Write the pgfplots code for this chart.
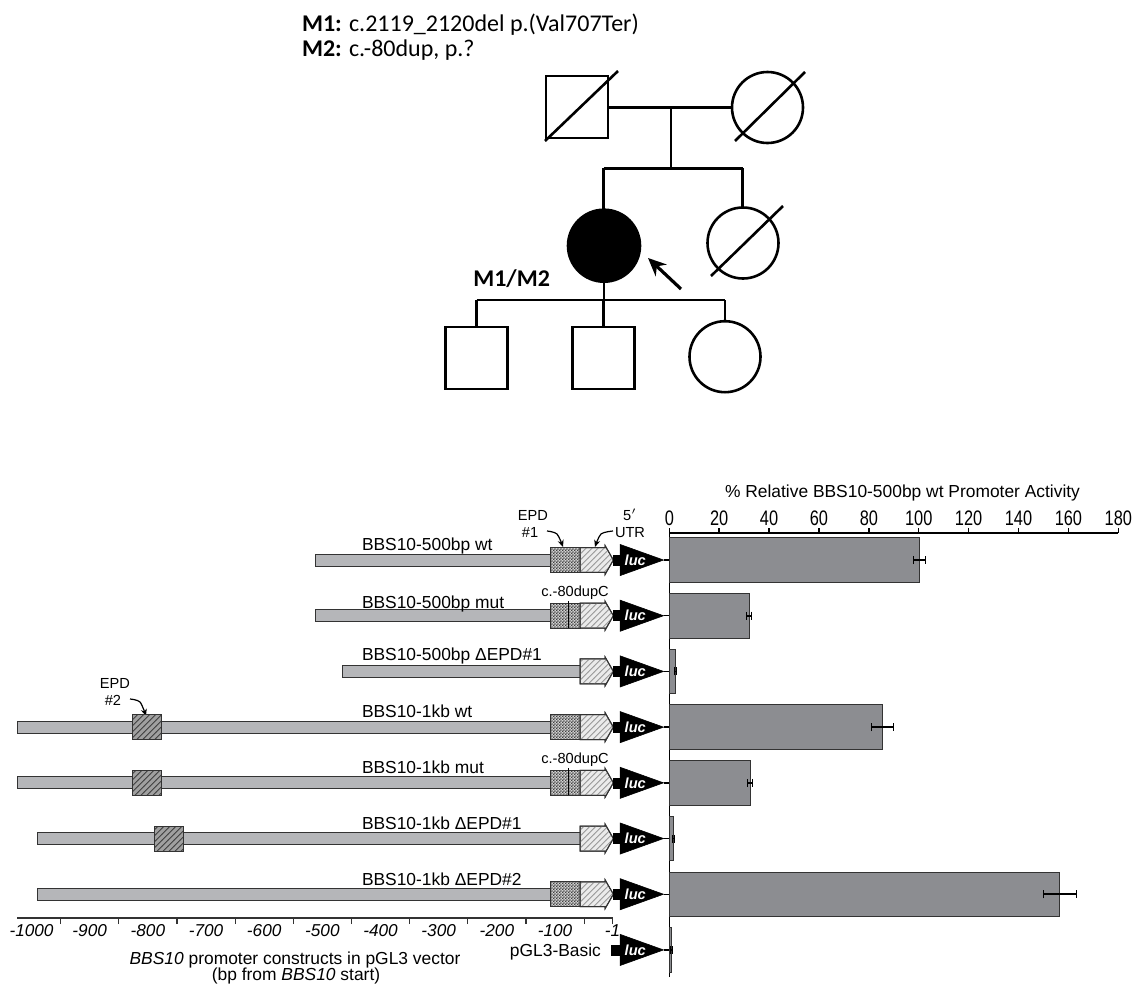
\documentclass[border=0pt]{standalone}
\usepackage{pgfplots}
\pgfplotsset{compat=1.18}
\usepackage{fontspec}
\setmainfont{Liberation Sans}
\newfontfamily\calibri{Carlito}
\newfontfamily\narrowf[FakeStretch=0.78]{Liberation Sans}
\usetikzlibrary{arrows.meta,patterns}
\pgfdeclarepatternformonly{checker}{\pgfqpoint{0pt}{0pt}}{\pgfqpoint{1.6pt}{1.6pt}}{\pgfqpoint{1.6pt}{1.6pt}}{%
  \pgfpathrectangle{\pgfqpoint{0pt}{0pt}}{\pgfqpoint{0.8pt}{0.8pt}}%
  \pgfpathrectangle{\pgfqpoint{0.8pt}{0.8pt}}{\pgfqpoint{0.8pt}{0.8pt}}%
  \pgfusepath{fill}}
\definecolor{barg}{HTML}{8C8D91}
\definecolor{cbar}{HTML}{B5B6B9}
\definecolor{cepd}{HTML}{D0D0D0}
\definecolor{cutr}{HTML}{EBEBEB}
\definecolor{cepdb}{HTML}{A0A0A0}
\newcommand{\lab}{\fontsize{8.7}{10}\selectfont}
\newcommand{\sm}{\fontsize{7.3}{8}\selectfont}
\begin{document}
\begin{tikzpicture}
\pgfplotsset{
 gbar/.style={draw=black!80, fill=cbar, line width=0.5pt},
 epda/.style={draw=black!80, line width=0.5pt, fill=cepd, postaction={pattern=checker, pattern color=black!75}},
 utr/.style={draw=black!80, line width=0.5pt, fill=cutr, postaction={pattern=north east lines, pattern color=black!40}},
 epdb/.style={draw=black!80, line width=0.5pt, fill=cepdb, postaction={pattern=north east lines, pattern color=black!75}},
 lucs/.style={draw=black, fill=black, line width=0.3pt},
 ped/.style={black, line width=1.3pt},
 carr/.style={black, line width=0.6pt, smooth, -{Stealth[length=3.5pt,width=3pt]}},
}
\tikzset{lucl/.style={font=\fontsize{7.3}{8}\selectfont\bfseries\itshape, text=white, inner sep=0pt}}

% ---------- master (pixel) axis: pedigree and free texts ----------
\begin{axis}[at={(0pt,0pt)}, anchor=north west, scale only axis,
  width=567.5pt, height=491.5pt, xmin=0, xmax=1135, ymin=-983, ymax=0,
  hide axis, clip=false]
\addplot[draw=none] coordinates {(0,0) (1135,-983)};
% pedigree lines
\addplot[ped] coordinates {(609,-107.5) (732,-107.5)};
\addplot[ped] coordinates {(671,-107.5) (671,-168.3)};
\addplot[ped] coordinates {(603.5,-168.3) (742.5,-168.3)};
\addplot[ped] coordinates {(603.5,-168.3) (603.5,-210)};
\addplot[ped] coordinates {(742.5,-168.3) (742.5,-208)};
\addplot[ped] coordinates {(604,-281) (604,-300)};
\addplot[ped] coordinates {(476.5,-300) (725,-300)};
\addplot[ped] coordinates {(476.5,-300) (476.5,-328)};
\addplot[ped] coordinates {(603.5,-300) (603.5,-328)};
\addplot[ped] coordinates {(725,-300) (725,-321)};
% deceased slashes
\addplot[ped] coordinates {(545,-141) (618,-71)};
\addplot[ped] coordinates {(735,-141) (805,-72)};
\addplot[ped] coordinates {(711,-276) (783,-206)};
% pedigree symbols
\addplot[only marks, mark=square, mark size=15.5pt, mark options={draw=black, line width=1.3pt}] coordinates {(577,-107) (476.5,-358) (603.5,-358)};
\addplot[only marks, mark=o, mark size=17.75pt, mark options={draw=black, line width=1.3pt}] coordinates {(767.5,-107.5) (743,-243) (725,-356.7)};
\addplot[only marks, mark=*, mark size=18pt, mark options={draw=black, fill=black, line width=1.3pt}] coordinates {(604,-245.7)};
% proband arrow
\addplot[black, line width=1.6pt, -{Stealth[length=9pt,width=8pt]}] coordinates {(681,-289) (648,-258)};
% texts
\node[anchor=base west, font=\calibri\fontsize{12}{14}\selectfont] at (axis cs:295,-31.7) {\textbf{M1:} c.2119\_2120del p.(Val707Ter)};
\node[anchor=base west, font=\calibri\fontsize{12}{14}\selectfont] at (axis cs:295,-56.7) {\textbf{M2:} c.-80dup, p.?};
\node[anchor=base east, font=\calibri\fontsize{12}{14}\selectfont] at (axis cs:557,-286.7) {\textbf{M1/M2}};
\node[anchor=base, font=\lab] at (axis cs:902.5,-497.5) {\% Relative BBS10-500bp wt Promoter Activity};
\node[anchor=base, font=\lab] at (axis cs:295,-964) {\textit{BBS10} promoter constructs in pGL3 vector};
\node[anchor=base, font=\lab] at (axis cs:296,-980) {(bp from \textit{BBS10} start)};
\node[anchor=base, font=\sm] at (axis cs:533,-520.7) {EPD};
\node[anchor=base, font=\sm] at (axis cs:530,-537.3) {\#1};
\node[anchor=base, font=\sm] at (axis cs:630,-520.7) {5$'$};
\node[anchor=base, font=\sm] at (axis cs:630,-537.3) {UTR};
\node[anchor=base, font=\sm] at (axis cs:115,-688.3) {EPD};
\node[anchor=base, font=\sm] at (axis cs:113,-705) {\#2};
\node[anchor=base, font=\sm] at (axis cs:575,-596.7) {c.-80dupC};
\node[anchor=base, font=\sm] at (axis cs:575,-763.5) {c.-80dupC};
\addplot[carr] coordinates {(547,-531) (557,-534) (563,-547)};
\addplot[carr] coordinates {(613,-531) (601,-534) (595,-547)};
\addplot[carr] coordinates {(130,-699) (140,-702) (146,-716)};
\end{axis}

% ---------- construct axis ----------
\begin{axis}[at={(8.5pt,-266.5pt)}, anchor=north west, scale only axis,
  width=297.8pt, height=192.5pt, xmin=-1025, xmax=-1, ymin=1.573, ymax=8.485,
  axis x line*=bottom, axis y line=none, clip=false,
  xtick={-1000,-900,-800,-700,-600,-500,-400,-300,-200,-100,-1},
  xticklabels={-1000,-900,-800,-700,-600,-500,-400,-300,-200,-100,-1},
  minor xtick={-950,-850,-750,-650,-550,-450,-350,-250,-150,-50,-1},
  major tick length=0pt, minor tick length=3pt, tick align=outside,
  xticklabel style={font=\fontsize{8.6}{9}\selectfont\itshape, inner sep=1pt, yshift=-2pt},
  axis line style={line width=0.6pt, black!80}, minor tick style={line width=0.6pt, black!80}]
% row 1: 500bp wt
\addplot[gbar] coordinates {(-511,7.892) (-57,7.892) (-57,8.108) (-511,8.108)} -- cycle;
\addplot[epda] coordinates {(-108,7.776) (-57,7.776) (-57,8.224) (-108,8.224)} -- cycle;
\addplot[utr] coordinates {(-57,7.776) (-14,7.776) (-14,7.74) (0.3,8) (-14,8.26) (-14,8.224) (-57,8.224)} -- cycle;
\addplot[lucs] coordinates {(0,7.91) (12,7.91) (12,8.09) (0,8.09)} -- cycle;
\addplot[lucs] coordinates {(11.8,7.72) (86.5,8) (11.8,8.28)} -- cycle;
\node[lucl] at (axis cs:38,8) {luc};
\node[anchor=base west, font=\lab] at (axis cs:-444,8.17) {BBS10-500bp wt};
% row 2: 500bp mut
\addplot[gbar] coordinates {(-511,6.892) (-57,6.892) (-57,7.108) (-511,7.108)} -- cycle;
\addplot[epda] coordinates {(-108,6.776) (-57,6.776) (-57,7.224) (-108,7.224)} -- cycle;
\addplot[black, line width=0.7pt] coordinates {(-77,6.776) (-77,7.26)};
\addplot[utr] coordinates {(-57,6.776) (-14,6.776) (-14,6.74) (0.3,7) (-14,7.26) (-14,7.224) (-57,7.224)} -- cycle;
\addplot[lucs] coordinates {(0,6.91) (12,6.91) (12,7.09) (0,7.09)} -- cycle;
\addplot[lucs] coordinates {(11.8,6.72) (86.5,7) (11.8,7.28)} -- cycle;
\node[lucl] at (axis cs:38,7) {luc};
\node[anchor=base west, font=\lab] at (axis cs:-444,7.13) {BBS10-500bp mut};
% row 3: 500bp dEPD1
\addplot[gbar] coordinates {(-465,5.892) (-57,5.892) (-57,6.108) (-465,6.108)} -- cycle;
\addplot[utr] coordinates {(-57,5.776) (-14,5.776) (-14,5.74) (0.3,6) (-14,6.26) (-14,6.224) (-57,6.224)} -- cycle;
\addplot[lucs] coordinates {(0,5.91) (12,5.91) (12,6.09) (0,6.09)} -- cycle;
\addplot[lucs] coordinates {(11.8,5.72) (86.5,6) (11.8,6.28)} -- cycle;
\node[lucl] at (axis cs:38,6) {luc};
\node[anchor=base west, font=\lab] at (axis cs:-444,6.2) {BBS10-500bp ΔEPD\#1};
% row 4: 1kb wt
\addplot[gbar] coordinates {(-1025,4.892) (-57,4.892) (-57,5.108) (-1025,5.108)} -- cycle;
\addplot[epdb] coordinates {(-826,4.776) (-777,4.776) (-777,5.224) (-826,5.224)} -- cycle;
\addplot[epda] coordinates {(-108,4.776) (-57,4.776) (-57,5.224) (-108,5.224)} -- cycle;
\addplot[utr] coordinates {(-57,4.776) (-14,4.776) (-14,4.74) (0.3,5) (-14,5.26) (-14,5.224) (-57,5.224)} -- cycle;
\addplot[lucs] coordinates {(0,4.91) (12,4.91) (12,5.09) (0,5.09)} -- cycle;
\addplot[lucs] coordinates {(11.8,4.72) (86.5,5) (11.8,5.28)} -- cycle;
\node[lucl] at (axis cs:38,5) {luc};
\node[anchor=base west, font=\lab] at (axis cs:-444,5.18) {BBS10-1kb wt};
% row 5: 1kb mut
\addplot[gbar] coordinates {(-1025,3.892) (-57,3.892) (-57,4.108) (-1025,4.108)} -- cycle;
\addplot[epdb] coordinates {(-826,3.776) (-777,3.776) (-777,4.224) (-826,4.224)} -- cycle;
\addplot[epda] coordinates {(-108,3.776) (-57,3.776) (-57,4.224) (-108,4.224)} -- cycle;
\addplot[black, line width=0.7pt] coordinates {(-77,3.776) (-77,4.26)};
\addplot[utr] coordinates {(-57,3.776) (-14,3.776) (-14,3.74) (0.3,4) (-14,4.26) (-14,4.224) (-57,4.224)} -- cycle;
\addplot[lucs] coordinates {(0,3.91) (12,3.91) (12,4.09) (0,4.09)} -- cycle;
\addplot[lucs] coordinates {(11.8,3.72) (86.5,4) (11.8,4.28)} -- cycle;
\node[lucl] at (axis cs:38,4) {luc};
\node[anchor=base west, font=\lab] at (axis cs:-444,4.17) {BBS10-1kb mut};
% row 6: 1kb dEPD1
\addplot[gbar] coordinates {(-990,2.892) (-57,2.892) (-57,3.108) (-990,3.108)} -- cycle;
\addplot[epdb] coordinates {(-788,2.776) (-739,2.776) (-739,3.224) (-788,3.224)} -- cycle;
\addplot[utr] coordinates {(-57,2.776) (-14,2.776) (-14,2.74) (0.3,3) (-14,3.26) (-14,3.224) (-57,3.224)} -- cycle;
\addplot[lucs] coordinates {(0,2.91) (12,2.91) (12,3.09) (0,3.09)} -- cycle;
\addplot[lucs] coordinates {(11.8,2.72) (86.5,3) (11.8,3.28)} -- cycle;
\node[lucl] at (axis cs:38,3) {luc};
\node[anchor=base west, font=\lab] at (axis cs:-444,3.17) {BBS10-1kb ΔEPD\#1};
% row 7: 1kb dEPD2
\addplot[gbar] coordinates {(-990,1.892) (-57,1.892) (-57,2.108) (-990,2.108)} -- cycle;
\addplot[epda] coordinates {(-108,1.776) (-57,1.776) (-57,2.224) (-108,2.224)} -- cycle;
\addplot[utr] coordinates {(-57,1.776) (-14,1.776) (-14,1.74) (0.3,2) (-14,2.26) (-14,2.224) (-57,2.224)} -- cycle;
\addplot[lucs] coordinates {(0,1.91) (12,1.91) (12,2.09) (0,2.09)} -- cycle;
\addplot[lucs] coordinates {(11.8,1.72) (86.5,2) (11.8,2.28)} -- cycle;
\node[lucl] at (axis cs:38,2) {luc};
\node[anchor=base west, font=\lab] at (axis cs:-444,2.15) {BBS10-1kb ΔEPD\#2};
% row 8: pGL3-Basic
\addplot[lucs] coordinates {(-3.7,0.91) (12,0.91) (12,1.09) (-3.7,1.09)} -- cycle;
\addplot[lucs] coordinates {(11.8,0.72) (86.5,1) (11.8,1.28)} -- cycle;
\node[lucl] at (axis cs:38,1) {luc};
\node[anchor=base east, font=\lab] at (axis cs:-9,0.88) {pGL3-Basic};
\end{axis}

% ---------- bar axis ----------
\begin{axis}[at={(334.65pt,-266.5pt)}, anchor=north west, scale only axis,
  width=224.5pt, height=222pt, xmin=0, xmax=180, ymin=0.515, ymax=8.485,
  axis x line*=top, axis y line*=left, clip=false,
  xtick={0,20,...,180}, ytick={1,2,3,4,5,6,7,8}, yticklabels={},
  tick align=outside, major tick length=2.5pt,
  xticklabel style={font=\narrowf\fontsize{10.5}{12}\selectfont, inner sep=1pt},
  /pgf/number format/assume math mode=true,
  axis line style={line width=0.7pt}, tick style={line width=0.7pt, black},
  xbar, bar width=0.8]
\addplot[fill=barg, draw=black!80, line width=0.5pt,
  error bars/.cd, x dir=both, x explicit, error bar style={line width=0.8pt, black}]
  coordinates {(100.2,8) +- (2.5,0) (32,7) +- (1,0) (2.5,6) +- (0.4,0) (85.3,5) +- (4.4,0)
               (32.5,4) +- (1,0) (1.8,3) +- (0.4,0) (156.5,2) +- (6.6,0) (0.7,1) +- (0.4,0)};
\end{axis}
\end{tikzpicture}
\end{document}
